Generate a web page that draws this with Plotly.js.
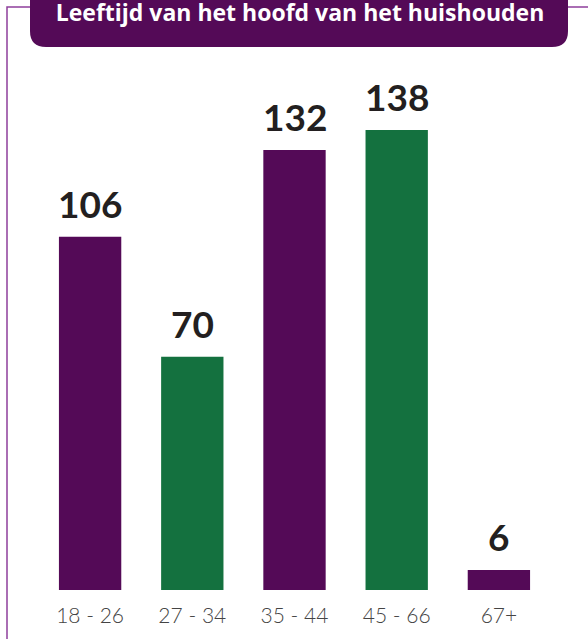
<!DOCTYPE html>
<html>
<head>
<meta charset="utf-8">
<script src="https://cdn.plot.ly/plotly-3.0.1.min.js"></script>
<style>html,body{margin:0;padding:0;background:#fff;}#chart{width:588px;height:639px;}</style>
</head>
<body>
<div id="chart"></div>
<script>
const categories = ["18 - 26", "27 - 34", "35 - 44", "45 - 66", "67+"];
const values = [106, 70, 132, 138, 6];
const barColors = ["#540a57", "#14713f", "#540a57", "#14713f", "#540a57"];
const chartTitle = "Leeftijd van het hoofd van het huishouden";

const W = 588, H = 639;
const M = {l: 39, r: 38, t: 90, b: 49};
const PW = W - M.l - M.r, PH = H - M.t - M.b;
const px = x => ((x - M.l) / PW).toFixed(5);
const py = y => ((H - M.b - y) / PH).toFixed(5);

const r = 16;
const boxL = 30, boxR = 568, boxB = 47, boxT = -10;
const boxPath = `M ${px(boxL)},${py(boxT)} L ${px(boxR)},${py(boxT)} L ${px(boxR)},${py(boxB - r)} Q ${px(boxR)},${py(boxB)} ${px(boxR - r)},${py(boxB)} L ${px(boxL + r)},${py(boxB)} Q ${px(boxL)},${py(boxB)} ${px(boxL)},${py(boxB - r)} Z`;
const linePath = `M ${px(7)},${py(H + 5)} L ${px(7)},${py(7)} L ${px(boxL)},${py(7)} M ${px(boxR)},${py(7)} L ${px(W + 5)},${py(7)}`;

const trace = {
  type: "bar",
  x: categories,
  y: values,
  marker: {color: barColors},
  hoverinfo: "none"
};

const annotations = categories.map((c, i) => ({
  x: c, y: values[i], xref: "x", yref: "y",
  text: String(values[i]),
  showarrow: false, yanchor: "bottom", yshift: 9,
  font: {family: "Lato, 'Noto Sans', sans-serif", size: 37, weight: 700, color: "#231f20"}
}));

const layout = {
  width: W, height: H,
  margin: M,
  paper_bgcolor: "#ffffff", plot_bgcolor: "#ffffff",
  bargap: 0.39,
  showlegend: false,
  title: {
    text: "<b>" + chartTitle + "</b>",
    xref: "paper", x: Number(px(300)), xanchor: "center",
    yref: "container", y: 1 - 13 / H, yanchor: "middle",
    font: {family: "'Open Sans', 'Noto Sans', sans-serif", size: 23, color: "#ffffff"}
  },
  xaxis: {
    type: "category",
    showline: false, showgrid: false, zeroline: false, ticks: "",
    tickfont: {family: "Lato, 'Open Sans', sans-serif", size: 21, weight: 300, color: "#444444"},
    ticklabelstandoff: 11
  },
  yaxis: {range: [0, 150], visible: false, fixedrange: true},
  shapes: [
    {type: "path", xref: "paper", yref: "paper", path: linePath, line: {color: "#8e3f9c", width: 1.5}, layer: "below"},
    {type: "path", xref: "paper", yref: "paper", path: boxPath, fillcolor: "#540a57", line: {width: 0}, layer: "above"}
  ],
  annotations: annotations
};

Plotly.newPlot("chart", [trace], layout, {displayModeBar: false, staticPlot: true});
</script>
</body>
</html>
